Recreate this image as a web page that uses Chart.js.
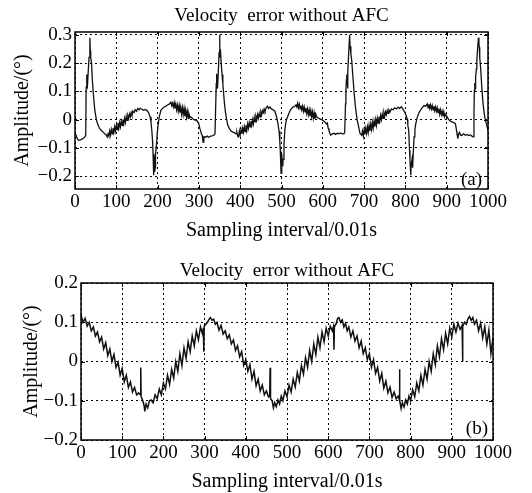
<!DOCTYPE html>
<html><head><meta charset="utf-8">
<script src="https://cdn.jsdelivr.net/npm/chart.js@4/dist/chart.umd.min.js"></script>
<style>
html,body{margin:0;padding:0;background:#fff;}
#wrap{position:relative;width:532px;height:493px;overflow:hidden;}
canvas{position:absolute;left:0;}
</style></head><body>
<div id="wrap">
<canvas id="ca" width="532" height="250" style="top:0"></canvas>
<canvas id="cb" width="532" height="243" style="top:250px"></canvas>
</div>
<script>
// ---------- data ----------
const chartTitle = 'Velocity  error without AFC';
const xAxisTitle = 'Sampling interval/0.01s';
const yAxisTitle = 'Amplitude/(°)';
const xTicks = [0,100,200,300,400,500,600,700,800,900,1000];
const yTicksA = [-0.2,-0.1,0,0.1,0.2,0.3];
const yLabelsA = ['−0.2','−0.1','0','0.1','0.2','0.3'];
const yTicksB = [-0.2,-0.1,0,0.1,0.2];
const yLabelsB = ['−0.2','−0.1','0','0.1','0.2'];

const sampleA = [0,3,6,9,12,15,18,21,24,26,27,28,29,30,32,34,36,37,38,40,42,45,48,52,56,60,64,68,72,76,78,80,82,84,86,88,90,92,94,96,98,100,102,104,106,108,110,112,114,116,118,120,122,124,126,128,130,132,134,136,138,140,143,146,149,152,155,158,162,166,170,174,178,182,184,186,188,189,190,191,192,193,194,195,197,199,201,204,208,212,216,220,224,228,232,234,236,238,240,242,244,246,248,250,252,254,256,258,260,262,264,266,268,270,272,274,276,278,280,284,288,292,296,300,302,304,306,308,310,312,316,320,324,328,332,336,339,341,342,343,344,345,347,349,350,351,352,354,356,358,360,362,364,366,370,374,378,382,386,390,392,394,396,398,400,402,404,406,408,410,412,414,416,418,420,422,424,426,428,430,432,434,436,438,440,442,444,446,448,450,452,454,456,458,460,463,466,469,472,476,480,484,488,491,494,496,497,498,499,500,501,502,503,504,506,508,510,512,516,520,524,528,532,535,537,539,541,543,545,547,549,551,553,555,557,559,561,563,565,567,569,571,573,575,577,579,581,583,586,590,594,598,602,606,609,611,613,615,617,619,623,627,631,635,639,643,647,651,653,655,656,657,658,659,660,661,663,665,666,668,670,673,676,679,683,687,690,694,696,698,700,702,704,706,708,710,712,714,716,718,720,722,724,726,728,730,732,734,736,738,740,742,744,746,748,750,752,754,756,758,760,763,766,770,774,778,782,786,790,793,796,799,802,805,806,808,810,811,812,813,814,816,817,818,819,821,823,825,829,833,837,841,845,849,853,855,857,859,861,863,865,867,869,871,873,875,877,879,881,883,885,887,889,891,893,895,897,901,905,909,913,917,921,923,925,927,929,931,934,937,941,945,949,953,957,961,964,966,967,968,969,970,972,973,975,977,978,979,980,982,985,988,992,996,1000];
const valueA = [-0.044,-0.058,-0.068,-0.073,-0.072,-0.07,-0.068,-0.065,-0.06,-0.055,0.115,0.16,0.12,0.115,0.17,0.22,0.29,0.245,0.22,0.2,0.14,0.08,0.033,-0.002,-0.02,-0.032,-0.038,-0.044,-0.05,-0.055,-0.061,-0.05,-0.058,-0.04,-0.055,-0.035,-0.05,-0.03,-0.045,-0.025,-0.04,-0.02,-0.035,-0.012,-0.03,-0.01,-0.025,-0.005,-0.02,0.0,-0.015,0.005,-0.01,0.012,-0.002,0.015,0.005,0.02,0.01,0.025,0.015,0.03,0.025,0.035,0.03,0.04,0.035,0.04,0.037,0.033,0.036,0.033,0.025,0.01,-0.01,-0.038,-0.08,-0.12,-0.196,-0.15,-0.14,-0.185,-0.17,-0.12,-0.095,-0.05,-0.02,0.01,0.033,0.04,0.045,0.048,0.052,0.055,0.062,0.05,0.058,0.045,0.06,0.04,0.055,0.035,0.052,0.03,0.05,0.025,0.045,0.02,0.042,0.018,0.04,0.012,0.035,0.01,0.03,0.005,0.02,0.008,0.01,0.005,0.0,-0.002,-0.005,-0.015,-0.03,-0.038,-0.05,-0.055,-0.079,-0.06,-0.062,-0.058,-0.062,-0.058,-0.057,-0.055,-0.05,-0.05,0.127,0.162,0.12,0.11,0.17,0.24,0.3,0.22,0.25,0.2,0.16,0.127,0.09,0.056,0.03,0.01,-0.02,-0.032,-0.04,-0.044,-0.046,-0.05,-0.045,-0.058,-0.061,-0.04,-0.055,-0.035,-0.05,-0.03,-0.045,-0.025,-0.042,-0.02,-0.038,-0.015,-0.03,-0.01,-0.025,-0.005,-0.02,0.0,-0.015,0.008,-0.008,0.012,0.0,0.018,0.005,0.022,0.01,0.028,0.018,0.032,0.025,0.038,0.03,0.042,0.048,0.04,0.045,0.037,0.035,0.03,0.01,-0.01,-0.04,-0.08,-0.108,-0.15,-0.19,-0.13,-0.12,-0.155,-0.165,-0.14,-0.09,-0.038,-0.015,0.0,0.015,0.03,0.039,0.045,0.047,0.052,0.045,0.058,0.042,0.055,0.038,0.05,0.035,0.048,0.03,0.045,0.028,0.042,0.022,0.038,0.018,0.035,0.012,0.032,0.01,0.028,0.005,0.025,0.003,0.02,0.008,0.005,0.002,0.0,-0.005,-0.01,-0.015,-0.012,-0.03,-0.038,-0.048,-0.055,-0.05,-0.048,-0.052,-0.048,-0.05,-0.047,-0.05,-0.05,-0.045,0.056,0.1,0.14,0.16,0.14,0.11,0.17,0.245,0.3,0.26,0.233,0.21,0.15,0.092,0.045,0.0,-0.026,-0.049,-0.055,-0.04,-0.058,-0.035,-0.052,-0.03,-0.048,-0.025,-0.045,-0.02,-0.04,-0.015,-0.035,-0.01,-0.03,-0.005,-0.025,0.0,-0.02,0.005,-0.012,0.01,-0.005,0.015,0.0,0.02,0.005,0.025,0.012,0.028,0.018,0.032,0.022,0.035,0.028,0.038,0.035,0.042,0.038,0.044,0.04,0.046,0.04,0.033,0.025,0.013,0.0,-0.02,-0.038,-0.108,-0.14,-0.17,-0.196,-0.16,-0.14,-0.167,-0.17,-0.12,-0.061,-0.035,-0.015,0.01,0.025,0.035,0.043,0.05,0.047,0.056,0.042,0.055,0.04,0.052,0.038,0.05,0.035,0.048,0.032,0.045,0.03,0.042,0.025,0.04,0.02,0.035,0.018,0.03,0.012,0.028,0.01,0.02,0.01,0.0,-0.005,-0.008,-0.01,-0.014,-0.03,-0.05,-0.067,-0.05,-0.045,-0.055,-0.055,-0.05,-0.055,-0.052,-0.056,-0.054,-0.058,-0.061,0.02,0.104,0.13,0.11,0.15,0.18,0.21,0.256,0.29,0.27,0.256,0.22,0.186,0.115,0.056,0.01,-0.014,-0.038];

const sampleB = [0,5,10,15,20,25,30,35,40,45,50,55,60,65,70,75,80,85,90,95,100,105,110,115,120,125,130,135,140,144,145,146,150,153,155,158,162,166,170,175,180,185,190,195,200,205,210,215,220,225,230,235,240,245,250,255,260,265,270,275,280,285,290,295,297,298,299,303,307,311,314,318,322,326,330,335,340,345,350,355,360,365,370,375,380,385,390,395,400,405,410,415,420,425,430,435,440,445,450,455,458,459,460,464,467,470,474,478,482,486,490,495,500,505,510,515,520,525,530,535,540,545,550,555,560,565,570,575,580,585,590,595,600,605,610,613,614,615,619,623,626,630,634,638,642,646,650,655,660,665,670,675,680,685,690,695,700,705,710,715,720,725,730,735,740,745,750,755,760,765,770,772,773,774,777,780,784,788,792,796,800,805,810,815,820,825,830,835,840,845,850,855,860,865,870,875,880,885,890,895,900,905,910,915,920,925,926,927,931,935,939,943,947,951,955,960,965,970,975,980,985,990,995,1000];
const valueB = [0.118,0.1,0.11,0.09,0.1,0.078,0.088,0.065,0.075,0.05,0.062,0.032,0.048,0.015,0.032,0.0,0.018,-0.015,-0.002,-0.035,-0.018,-0.052,-0.035,-0.066,-0.052,-0.078,-0.066,-0.085,-0.08,
  -0.085,-0.015,-0.09,-0.1,-0.112,-0.127,-0.108,-0.118,-0.1,
  -0.098,-0.105,-0.085,-0.095,-0.07,-0.085,-0.055,-0.07,-0.035,-0.058,-0.02,-0.042,0.0,-0.025,0.02,-0.01,0.035,0.008,0.05,0.025,0.065,0.04,0.078,0.055,0.088,0.07,
  0.085,0.025,0.09,0.095,0.1,0.108,0.112,0.105,0.108,0.095,0.1,
  0.08,0.092,0.07,0.078,0.058,0.068,0.045,0.055,0.028,0.04,0.012,0.025,-0.01,0.005,-0.025,-0.008,-0.045,-0.025,-0.062,-0.045,-0.075,-0.06,-0.085,-0.075,-0.09,
  -0.088,-0.016,-0.095,-0.1,-0.118,-0.105,-0.115,-0.098,-0.108,-0.088,-0.1,
  -0.075,-0.09,-0.06,-0.078,-0.045,-0.065,-0.028,-0.05,-0.01,-0.032,0.01,-0.015,0.028,0.0,0.045,0.018,0.062,0.035,0.075,0.05,0.085,0.065,0.09,0.078,
  0.09,0.03,0.088,0.095,0.11,0.112,0.1,0.106,0.088,0.097,0.078,0.088,
  0.062,0.078,0.052,0.065,0.035,0.052,0.02,0.035,0.005,0.02,-0.015,0.005,-0.03,-0.015,-0.05,-0.03,-0.068,-0.05,-0.08,-0.065,-0.092,-0.078,-0.095,-0.088,
  -0.095,-0.02,-0.1,-0.12,-0.105,-0.116,-0.098,-0.108,-0.088,-0.1,
  -0.072,-0.09,-0.055,-0.075,-0.035,-0.06,-0.02,-0.045,0.0,-0.025,0.02,-0.008,0.04,0.012,0.058,0.03,0.072,0.045,0.085,0.062,0.095,0.075,0.098,0.082,0.092,
  0.0,0.09,0.1,0.095,0.108,0.115,0.105,0.112,0.095,0.105,
  0.078,0.098,0.06,0.088,0.045,0.08,0.02,0.06];

// ---------- drawing ----------
const FONT = "'Liberation Serif','Times New Roman',serif";

function frameAndTag(tag, inset, xVals, yVals) {
  return {
    id: 'frame',
    afterDraw(chart) {
      const {ctx, chartArea: a, scales} = chart;
      const T = 4;
      ctx.save();
      ctx.strokeStyle = '#000';
      ctx.setLineDash([]);
      ctx.lineWidth = 1;
      ctx.beginPath();
      xVals.forEach(v => {
        const p = Math.round(scales.x.getPixelForValue(v)) + 0.5;
        ctx.moveTo(p, a.bottom); ctx.lineTo(p, a.bottom - T);
        ctx.moveTo(p, a.top); ctx.lineTo(p, a.top + T);
      });
      yVals.forEach(v => {
        const p = Math.round(scales.y.getPixelForValue(v)) + 0.5;
        ctx.moveTo(a.left, p); ctx.lineTo(a.left + T, p);
        ctx.moveTo(a.right, p); ctx.lineTo(a.right - T, p);
      });
      ctx.stroke();
      ctx.lineWidth = 1.5;
      ctx.strokeRect(a.left, a.top, a.right - a.left, a.bottom - a.top);
      ctx.fillStyle = '#000';
      ctx.font = '19px ' + FONT;
      ctx.textAlign = 'right';
      ctx.textBaseline = 'middle';
      ctx.fillText(tag, a.right - inset.r, a.bottom - inset.b);
      ctx.restore();
    }
  };
}

function makeChart(id, samples, values, yTickVals, yTickLabels, yMin, yMax, g, tag) {
  const pts = samples.map((s, i) => ({x: s, y: values[i]}));
  return new Chart(document.getElementById(id), {
    type: 'line',
    data: {datasets: [{data: pts, borderColor: '#111', borderWidth: g.lw, pointRadius: 0, tension: 0, fill: false}]},
    options: {
      responsive: false,
      animation: false,
      events: [],
      layout: {padding: {left: 0, right: g.padRight, top: 0, bottom: 0}},
      plugins: {
        legend: {display: false},
        tooltip: {enabled: false},
        title: {
          display: true, text: chartTitle, color: '#000', fullSize: false,
          font: {family: FONT, size: 19, weight: 'normal', lineHeight: 1.2},
          padding: {top: g.tTop, bottom: g.tBot}
        }
      },
      scales: {
        x: {
          type: 'linear', min: 0, max: 1000,
          afterBuildTicks: s => { s.ticks = xTicks.map(v => ({value: v})); },
          afterFit: s => { s.height = g.xH; },
          ticks: {color: '#000', font: {family: FONT, size: 19}, padding: g.xPad, maxRotation: 0, autoSkip: false, callback: v => String(v)},
          grid: {color: '#000', lineWidth: 1, drawTicks: false},
          border: {display: false, dash: [2, 3]},
          title: {display: true, text: xAxisTitle, color: '#000', font: {family: FONT, size: 20, lineHeight: 1.2}, padding: {top: 0, bottom: g.xtPad}}
        },
        y: {
          type: 'linear', min: yMin, max: yMax,
          afterBuildTicks: s => { s.ticks = yTickVals.map(v => ({value: v})); },
          afterFit: s => { s.width = g.yW; },
          ticks: {color: '#000', font: {family: FONT, size: 19}, padding: 3, callback: v => yTickLabels[yTickVals.indexOf(v)]},
          grid: {color: '#000', lineWidth: 1, drawTicks: false},
          border: {display: false, dash: [2, 3]},
          title: {display: true, text: yAxisTitle, color: '#000', font: {family: FONT, size: 20, lineHeight: 1.2}, padding: {top: g.ytPad, bottom: 0}}
        }
      }
    },
    plugins: [frameAndTag(tag, g.tagInset, xTicks, yTickVals)]
  });
}

makeChart('ca', sampleA, valueA, yTicksA, yLabelsA, -0.245, 0.31,
  {lw: 1.3, padRight: 44, tTop: 5, tBot: 4.2, xH: 61, xPad: 2, xtPad: 7, yW: 75, ytPad: 11, tagInset: {r: 6, b: 9}}, '(a)');
makeChart('cb', sampleB, valueB, yTicksB, yLabelsB, -0.2, 0.2,
  {lw: 1.5, padRight: 39, tTop: 10, tBot: 0.2, xH: 53, xPad: 2, xtPad: -1, yW: 81, ytPad: 20, tagInset: {r: 5, b: 11}}, '(b)');
</script>
</body></html>
